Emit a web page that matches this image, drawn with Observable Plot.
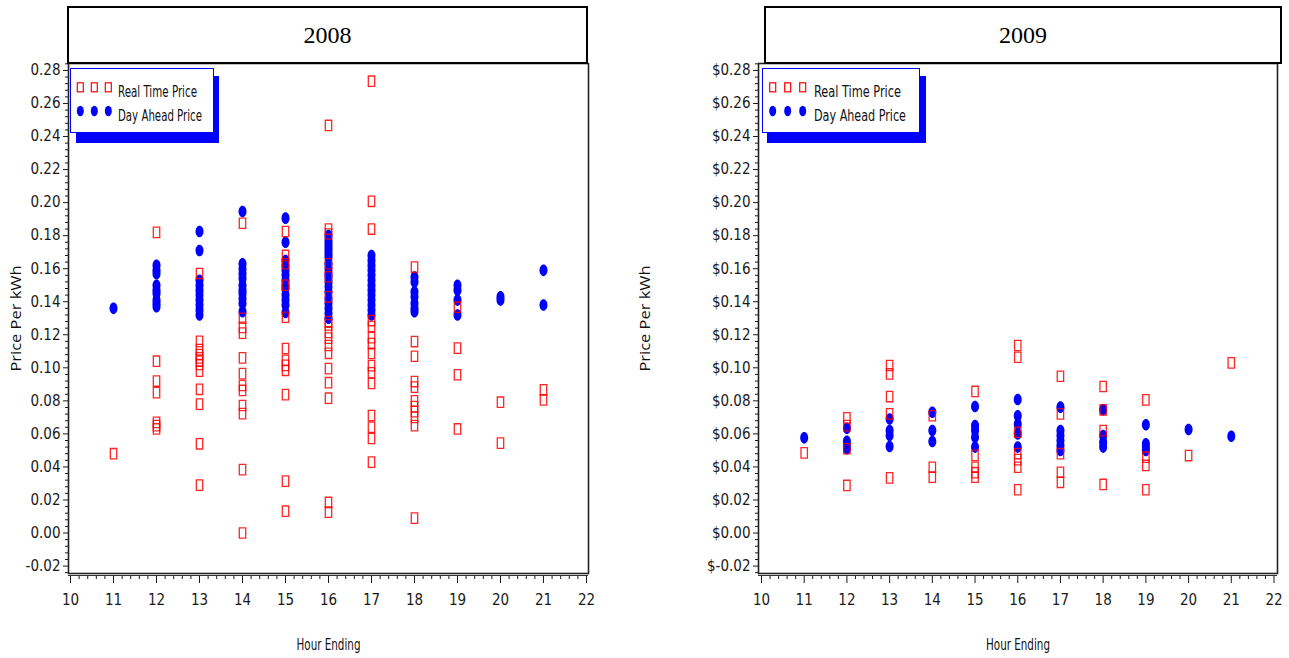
<!DOCTYPE html>
<html>
<head>
<meta charset="utf-8">
<script src="https://cdn.jsdelivr.net/npm/d3@7"></script>
<script src="https://cdn.jsdelivr.net/npm/@observablehq/plot@0.6"></script>
<style>
  html, body { margin: 0; padding: 0; background: #fff; }
  #page { position: relative; width: 1289px; height: 658px; overflow: hidden; background: #fff; }
  .abs { position: absolute; }
  .title { position: absolute; box-sizing: border-box; border: 2px solid #000; background: #fff;
           font-family: "Liberation Serif", "DejaVu Serif", serif; font-size: 24px; color: #000;
           display: flex; align-items: center; justify-content: center; }
</style>
</head>
<body>
<div id="page"></div>
<script>
// ---------------- DATA ----------------
const hours = [11, 12, 13, 14, 15, 16, 17, 18, 19, 20, 21];
const xTicks = [10, 11, 12, 13, 14, 15, 16, 17, 18, 19, 20, 21, 22];
const yTicks = [-0.02, 0.00, 0.02, 0.04, 0.06, 0.08, 0.10, 0.12, 0.14, 0.16, 0.18, 0.20, 0.22, 0.24, 0.26, 0.28];
const panelTitles = ["2008", "2009"];
const seriesNames = ["Real Time Price", "Day Ahead Price"];

// 2008 Real Time Price (one list per hour in `hours`)
const rt2008 = [
  [0.048],
  [0.182, 0.104, 0.092, 0.085, 0.067, 0.065, 0.063],
  [0.157, 0.116, 0.111, 0.108, 0.106, 0.104, 0.102, 0.098, 0.087, 0.078, 0.054, 0.029],
  [0.1875, 0.130, 0.1245, 0.121, 0.106, 0.0965, 0.0893, 0.0863, 0.0772, 0.0723, 0.0384, 0.000],
  [0.1825, 0.168, 0.163, 0.150, 0.1306, 0.1117, 0.1045, 0.1015, 0.0985, 0.0838, 0.0314, 0.0132],
  [0.2467, 0.184, 0.181, 0.163, 0.155, 0.143, 0.128, 0.126, 0.1214, 0.118, 0.1135, 0.1088, 0.0995, 0.091, 0.0816, 0.0185, 0.0126],
  [0.2735, 0.2008, 0.184, 0.1286, 0.125, 0.1183, 0.1147, 0.1087, 0.1013, 0.097, 0.0905, 0.0711, 0.064, 0.0572, 0.0429],
  [0.161, 0.1159, 0.107, 0.0917, 0.0883, 0.080, 0.0765, 0.0735, 0.070, 0.065, 0.009],
  [0.1367, 0.1119, 0.0958, 0.063],
  [0.0792, 0.0544],
  [0.0867, 0.0806]
];
// 2008 Day Ahead Price
const da2008 = [
  [0.136],
  [0.162, 0.159, 0.157, 0.150, 0.147, 0.145, 0.141, 0.139, 0.137],
  [0.1825, 0.171, 0.153, 0.150, 0.147, 0.144, 0.141, 0.138, 0.135, 0.132],
  [0.1946, 0.163, 0.160, 0.157, 0.154, 0.150, 0.147, 0.145, 0.142, 0.139, 0.134],
  [0.1906, 0.176, 0.165, 0.162, 0.159, 0.156, 0.153, 0.150, 0.148, 0.144, 0.141, 0.138, 0.1335],
  [0.180, 0.177, 0.175, 0.173, 0.171, 0.169, 0.167, 0.163, 0.160, 0.157, 0.155, 0.152, 0.149, 0.146, 0.142, 0.139, 0.136, 0.133, 0.130],
  [0.168, 0.165, 0.162, 0.159, 0.156, 0.153, 0.150, 0.147, 0.144, 0.141, 0.138, 0.135, 0.132],
  [0.155, 0.152, 0.146, 0.143, 0.139, 0.136, 0.134],
  [0.150, 0.147, 0.141, 0.132],
  [0.143, 0.141],
  [0.159, 0.138]
];
// 2009 Real Time Price
const rt2009 = [
  [0.0485],
  [0.0697, 0.065, 0.051, 0.0288],
  [0.1014, 0.0963, 0.0826, 0.0721, 0.0334],
  [0.071, 0.0398, 0.0338],
  [0.0857, 0.047, 0.0398, 0.0365, 0.0338],
  [0.1135, 0.1064, 0.061, 0.0481, 0.0444, 0.0398, 0.0262],
  [0.0949, 0.0721, 0.048, 0.0368, 0.0307],
  [0.0887, 0.0746, 0.062, 0.0294],
  [0.0806, 0.0459, 0.0409, 0.0262],
  [0.0469],
  [0.103]
];
// 2009 Day Ahead Price
const da2009 = [
  [0.0576],
  [0.0634, 0.0555, 0.053, 0.051],
  [0.069, 0.062, 0.059, 0.0524],
  [0.0731, 0.062, 0.0554],
  [0.0766, 0.065, 0.062, 0.058, 0.052],
  [0.0808, 0.071, 0.066, 0.060, 0.052],
  [0.0762, 0.062, 0.059, 0.056, 0.053, 0.050],
  [0.0746, 0.059, 0.055, 0.052],
  [0.0655, 0.054, 0.052, 0.050],
  [0.0627],
  [0.0586]
];

// ---------------- DRAWING ----------------
const RED = "#ff0000", BLUE = "#0000ff";
const axisFont = "'DejaVu Sans Condensed', 'Liberation Sans Narrow', 'Roboto', sans-serif";

const squareSym = { draw(ctx) {
  ctx.moveTo(-3.2, -5.2); ctx.lineTo(3.2, -5.2); ctx.lineTo(3.2, 5.2); ctx.lineTo(-3.2, 5.2); ctx.closePath();
}};
const ellipseSym = { draw(ctx) {
  const rx = 4, ry = 5.8, k = 0.5523;
  ctx.moveTo(rx, 0);
  ctx.bezierCurveTo(rx, ry * k, rx * k, ry, 0, ry);
  ctx.bezierCurveTo(-rx * k, ry, -rx, ry * k, -rx, 0);
  ctx.bezierCurveTo(-rx, -ry * k, -rx * k, -ry, 0, -ry);
  ctx.bezierCurveTo(rx * k, -ry, rx, -ry * k, rx, 0);
  ctx.closePath();
}};

function flat(lists) {
  return hours.flatMap((h, i) => lists[i].map(v => ({ hour: h, price: v })));
}

const yDomain = [-0.0245, 0.2842];
const minorY = d3.range(-24, 285, 4).map(d => d / 1000).filter(d => Math.round(d * 1000) % 20 !== 0);
const minorX = d3.range(100, 221, 2).map(d => d / 10).filter(d => Math.round(d * 10) % 10 !== 0);

function panel({ rt, da, fmt, width, marginLeft, marginRight, xDomain, yLabelOffset }) {
  const svg = Plot.plot({
    width, height: 658,
    marginTop: 63, marginBottom: 85, marginLeft, marginRight,
    x: { domain: xDomain },
    y: { domain: yDomain },
    style: { fontFamily: axisFont, fontSize: "15px", color: "#1a1a1a", background: "transparent", overflow: "visible" },
    marks: [
      Plot.axisY({ ticks: yTicks, tickSize: 5, tickPadding: 3, tickFormat: fmt, label: null, fontSize: 15 }),
      Plot.axisY({ ticks: minorY, tickSize: 3, tickFormat: () => "", label: null }),
      Plot.axisX({ ticks: xTicks, tickSize: 8, tickPadding: 11, dy: 2, tickFormat: d => String(d), label: null, fontSize: 15 }),
      Plot.axisX({ ticks: minorX, tickSize: 4, dy: 2, tickFormat: () => "", label: null }),
      Plot.ruleY([yDomain[0]], { dy: 2, stroke: "#333", strokeWidth: 1 }),
      Plot.frame({ stroke: "#222", strokeWidth: 1.6 }),
      Plot.dot(flat(da), { x: "hour", y: "price", symbol: ellipseSym, fill: BLUE, stroke: "none" }),
      Plot.dot(flat(rt), { x: "hour", y: "price", symbol: squareSym, fill: "none", stroke: RED, strokeWidth: 1.3, strokeOpacity: 0.85 }),
      Plot.text(["Price Per kWh"], { frameAnchor: "left", dx: -yLabelOffset, rotate: -90, textAnchor: "middle", lineAnchor: "middle", fontSize: 14, fontFamily: "'Open Sans', 'DejaVu Sans', sans-serif", fill: "#111" }),
      Plot.text(["Hour Ending"], { frameAnchor: "bottom", dy: 72, textAnchor: "middle", lineAnchor: "middle", fontSize: 15, fill: "#111" })
    ]
  });
  const sel = d3.select(svg).selectAll("text");
  sel.filter(function () { return this.textContent === "Price Per kWh"; })
    .attr("textLength", 106).attr("lengthAdjust", "spacingAndGlyphs");
  sel.filter(function () { return this.textContent === "Hour Ending"; })
    .attr("textLength", 64).attr("lengthAdjust", "spacingAndGlyphs");
  return svg;
}

const page = document.getElementById("page");

const left = panel({ rt: rt2008, da: da2008, fmt: d => d.toFixed(2), width: 630, marginLeft: 68, marginRight: 42,
  xDomain: [9.953, 22.047], yLabelOffset: 52 });
left.style.position = "absolute"; left.style.left = "0px"; left.style.top = "0px";
page.appendChild(left);

const right = panel({ rt: rt2009, da: da2009, fmt: d => "$" + d.toFixed(2), width: 659, marginLeft: 128, marginRight: 12,
  xDomain: [9.93, 22.082], yLabelOffset: 113 });
right.style.position = "absolute"; right.style.left = "630px"; right.style.top = "0px";
page.appendChild(right);

// Titles
function addTitle(text, l, w) {
  const d = document.createElement("div");
  d.className = "title";
  d.style.left = l + "px"; d.style.top = "6px"; d.style.width = w + "px"; d.style.height = "58px";
  d.textContent = text;
  page.appendChild(d);
}
addTitle(panelTitles[0], 67, 521);
addTitle(panelTitles[1], 764, 518);

// Legends
function addLegend(opt) {
  const ns = "http://www.w3.org/2000/svg";
  const sh = document.createElement("div");
  sh.className = "abs";
  Object.assign(sh.style, { left: opt.sx + "px", top: opt.sy + "px", width: opt.sw + "px", height: opt.sh + "px", background: BLUE });
  page.appendChild(sh);
  const box = document.createElement("div");
  box.className = "abs";
  Object.assign(box.style, { left: opt.bx + "px", top: opt.by + "px", width: opt.bw + "px", height: opt.bh + "px",
    background: "#fff", border: "1px solid " + BLUE, boxSizing: "border-box" });
  page.appendChild(box);
  const s = document.createElementNS(ns, "svg");
  s.setAttribute("width", 1289); s.setAttribute("height", 200);
  Object.assign(s.style, { position: "absolute", left: "0px", top: "0px", overflow: "visible" });
  opt.xs.forEach(x => {
    const r = document.createElementNS(ns, "rect");
    r.setAttribute("x", x - 3); r.setAttribute("y", 82.8); r.setAttribute("width", 6); r.setAttribute("height", 9);
    r.setAttribute("fill", "none"); r.setAttribute("stroke", RED); r.setAttribute("stroke-width", 1.2);
    s.appendChild(r);
    const e = document.createElementNS(ns, "ellipse");
    e.setAttribute("cx", x); e.setAttribute("cy", 111); e.setAttribute("rx", 3.5); e.setAttribute("ry", 5.3);
    e.setAttribute("fill", BLUE);
    s.appendChild(e);
  });
  seriesNames.forEach((name, i) => {
    const t = document.createElementNS(ns, "text");
    t.setAttribute("x", opt.tx); t.setAttribute("y", i === 0 ? 96.5 : 120.5);
    t.setAttribute("font-family", axisFont); t.setAttribute("font-size", opt.fs); t.setAttribute("fill", "#111");
    t.setAttribute("textLength", opt.tl[i]); t.setAttribute("lengthAdjust", "spacingAndGlyphs");
    t.textContent = name;
    s.appendChild(t);
  });
  page.appendChild(s);
}
addLegend({ sx: 76, sy: 76, sw: 143, sh: 67, bx: 70, by: 68, bw: 144, bh: 65, xs: [80.3, 94.3, 108.3], tx: 118, fs: 15, tl: [79, 84] });
addLegend({ sx: 767, sy: 76, sw: 159, sh: 67, bx: 761.5, by: 68, bw: 158, bh: 65, xs: [772.7, 787.7, 802.7], tx: 814, fs: 16, tl: [87, 92] });
</script>
</body>
</html>
